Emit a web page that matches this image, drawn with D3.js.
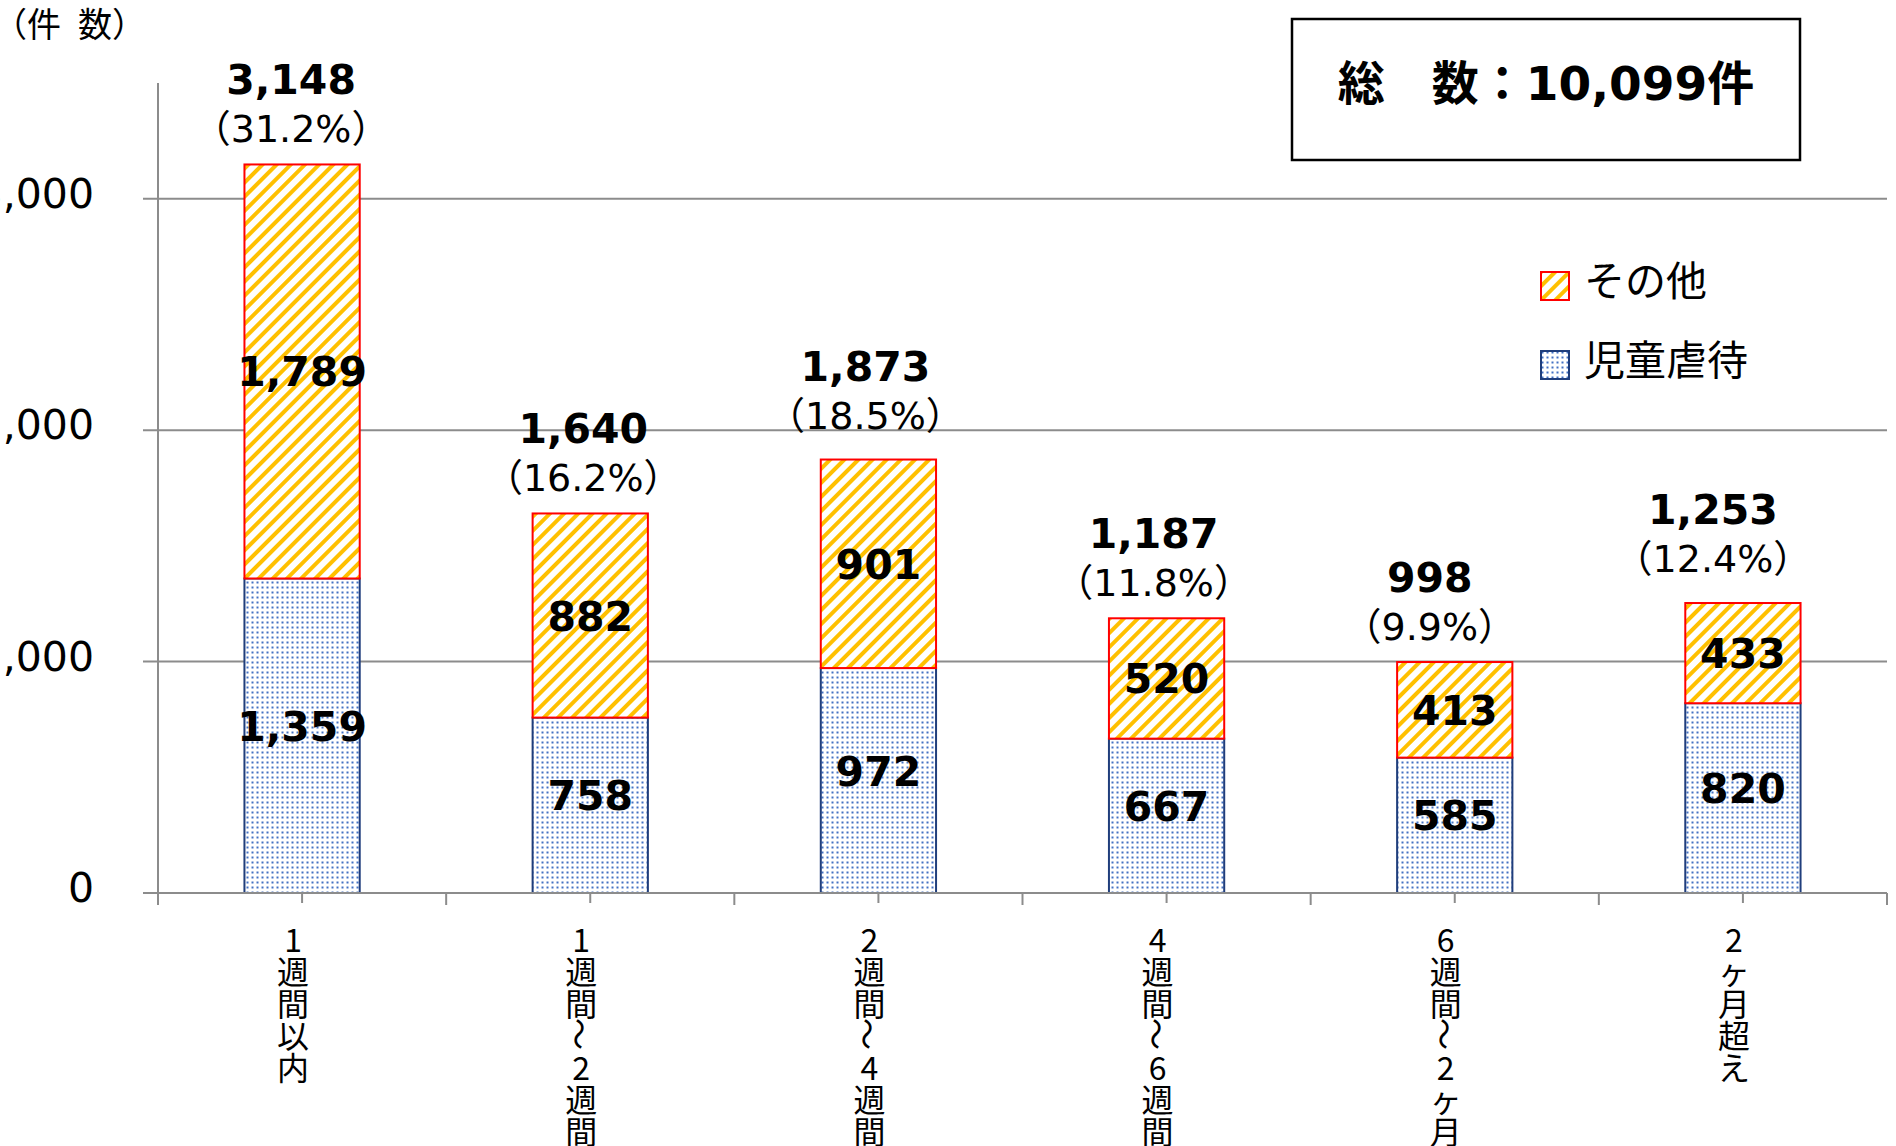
<!DOCTYPE html>
<html>
<head>
<meta charset="utf-8">
<script src="https://cdn.jsdelivr.net/npm/d3@7"></script>
<style>
  body { margin: 0; background: #fff; }
  svg { display: block; }
  text { font-family: "DejaVu Sans", "Noto Sans CJK JP", sans-serif; fill: #000; }
</style>
</head>
<body>
<div id="chart"></div>
<script>
// --- データ ---
const categories = [
  ["1", "週", "間", "以", "内"],
  ["1", "週", "間", "～", "2", "週", "間"],
  ["2", "週", "間", "～", "4", "週", "間"],
  ["4", "週", "間", "～", "6", "週", "間"],
  ["6", "週", "間", "～", "2", "ヶ", "月"],
  ["2", "ヶ", "月", "超", "え"]
];
const abuse = [1359, 758, 972, 667, 585, 820];   // 児童虐待
const other = [1789, 882, 901, 520, 413, 433];   // その他
const percents = ["31.2%", "16.2%", "18.5%", "11.8%", "9.9%", "12.4%"];
const yTicks = [0, 1000, 2000, 3000];
const seriesNames = ["その他", "児童虐待"];
const totalText = "総\u3000数：10,099件";
const yTitle = "（件\u2002数）";

// 合計ラベルの手動位置ずれ（元図で個別に動かされている）
const labelShift = [[-11, 0], [-7, 0], [-13, -9], [-13, 0], [-25, 0], [-30, -9]];

// --- サイズ ---
const W = 1896, H = 1146;
const plot = { left: 158, right: 1887, top: 83, bottom: 893 };

const svg = d3.select("#chart")
  .append("svg")
    .attr("width", W)
    .attr("height", H);

// --- パターン ---
const defs = svg.append("defs");
const stripe = defs.append("pattern")
    .attr("id", "stripe")
    .attr("patternUnits", "userSpaceOnUse")
    .attr("width", 10)
    .attr("height", 10)
    .attr("patternTransform", "rotate(45)");
stripe.append("rect").attr("width", 10).attr("height", 10).attr("fill", "#fff");
stripe.append("rect").attr("width", 4).attr("height", 10).attr("fill", "#ffc000");

const dots = defs.append("pattern")
    .attr("id", "dots")
    .attr("patternUnits", "userSpaceOnUse")
    .attr("width", 5)
    .attr("height", 5);
dots.append("rect").attr("width", 5).attr("height", 5).attr("fill", "#fff");
dots.append("rect").attr("x", 1.5).attr("y", 1.5).attr("width", 2).attr("height", 2).attr("fill", "#4472c4");

// --- スケール ---
const idx = d3.range(categories.length);
const x = d3.scaleBand()
  .domain(idx)
  .range([plot.left, plot.right])
  .paddingInner(0.6)
  .paddingOuter(0.3);

const y = d3.scaleLinear()
  .domain([0, 3500])
  .range([plot.bottom, plot.top]);

const axisColor = "#8c8c8c";
const fmt = d3.format(",");

// --- グリッド線 ---
svg.append("g")
  .selectAll("line")
  .data(yTicks)
  .join("line")
    .attr("x1", plot.left - 15)
    .attr("x2", plot.right)
    .attr("y1", d => y(d))
    .attr("y2", d => y(d))
    .attr("stroke", axisColor)
    .attr("stroke-width", 2);

// Y軸ラベル（元図と同じく左端で切れる）
svg.append("g")
  .selectAll("text")
  .data(yTicks)
  .join("text")
    .attr("x", 94)
    .attr("y", d => y(d) + 9)
    .attr("text-anchor", "end")
    .style("font-size", "41px")
    .text(d => fmt(d));

// Y軸
svg.append("line")
  .attr("x1", plot.left).attr("x2", plot.left)
  .attr("y1", plot.top).attr("y2", plot.bottom + 12)
  .attr("stroke", axisColor)
  .attr("stroke-width", 2);

// X軸: 棒の中央の短い目盛
const xAxis = svg.append("g")
  .attr("transform", `translate(0,${plot.bottom})`)
  .call(d3.axisBottom(x).tickSize(10).tickFormat(""));
xAxis.select(".domain").remove();
xAxis.selectAll("line").attr("stroke", axisColor).attr("stroke-width", 2);

// カテゴリ境界の目盛
svg.append("g")
  .selectAll("line")
  .data(idx.map(i => i + 1))
  .join("line")
    .attr("x1", i => plot.left + i * x.step())
    .attr("x2", i => plot.left + i * x.step())
    .attr("y1", plot.bottom)
    .attr("y2", plot.bottom + 12)
    .attr("stroke", axisColor)
    .attr("stroke-width", 2);

// --- 棒 ---
const bars = svg.append("g");
bars.selectAll(".abuse")
  .data(idx)
  .join("rect")
    .attr("class", "abuse")
    .attr("x", i => x(i))
    .attr("y", i => y(abuse[i]))
    .attr("width", x.bandwidth())
    .attr("height", i => y(0) - y(abuse[i]))
    .attr("fill", "url(#dots)")
    .attr("stroke", "#203e7c")
    .attr("stroke-width", 2);

bars.selectAll(".other")
  .data(idx)
  .join("rect")
    .attr("class", "other")
    .attr("x", i => x(i))
    .attr("y", i => y(abuse[i] + other[i]))
    .attr("width", x.bandwidth())
    .attr("height", i => y(abuse[i]) - y(abuse[i] + other[i]))
    .attr("fill", "url(#stripe)")
    .attr("stroke", "#ff0000")
    .attr("stroke-width", 2);

// X軸線（棒の上に）
svg.append("line")
  .attr("x1", plot.left - 15).attr("x2", plot.right)
  .attr("y1", plot.bottom).attr("y2", plot.bottom)
  .attr("stroke", axisColor)
  .attr("stroke-width", 2);

const cx = i => x(i) + x.bandwidth() / 2;

// --- 値ラベル ---
svg.append("g")
  .selectAll("text")
  .data(idx)
  .join("text")
    .attr("x", cx)
    .attr("y", i => (y(abuse[i]) + y(0)) / 2 + 5)
    .attr("text-anchor", "middle")
    .style("font-size", "41px")
    .style("font-weight", "bold")
    .text(i => fmt(abuse[i]));

svg.append("g")
  .selectAll("text")
  .data(idx)
  .join("text")
    .attr("x", cx)
    .attr("y", i => (y(abuse[i] + other[i]) + y(abuse[i])) / 2 + 15)
    .attr("text-anchor", "middle")
    .style("font-size", "41px")
    .style("font-weight", "bold")
    .text(i => fmt(other[i]));

// 合計と割合
const tops = svg.append("g");
tops.selectAll(".total")
  .data(idx)
  .join("text")
    .attr("class", "total")
    .attr("x", i => cx(i) + labelShift[i][0])
    .attr("y", i => y(abuse[i] + other[i]) - 70 + labelShift[i][1])
    .attr("text-anchor", "middle")
    .style("font-size", "41px")
    .style("font-weight", "bold")
    .text(i => fmt(abuse[i] + other[i]));

tops.selectAll(".pct")
  .data(idx)
  .join("text")
    .attr("class", "pct")
    .attr("x", i => cx(i) + labelShift[i][0])
    .attr("y", i => y(abuse[i] + other[i]) - 22 + labelShift[i][1])
    .attr("text-anchor", "middle")
    .style("font-size", "38px")
    .text(i => `（${percents[i]}）`);

// --- X軸ラベル（縦に1文字ずつ） ---
const xl = svg.append("g")
  .selectAll("g")
  .data(idx)
  .join("g");
xl.each(function(i) {
  const g = d3.select(this);
  categories[i].forEach((ch, k) => {
    const px = cx(i) - 9, py = 938 + k * 32;
    g.append("text")
      .attr("x", px)
      .attr("y", py)
      .attr("text-anchor", "middle")
      .attr("dominant-baseline", "central")
      .attr("transform", ch === "～" ? `rotate(90,${px},${py})` : null)
      .style("font-size", "32px")
      .style("font-family", "'Noto Sans CJK JP', sans-serif")
      .text(ch);
  });
});

// --- 凡例 ---
const legend = svg.append("g");
const legendY = [286, 365];
const legendFill = ["url(#stripe)", "url(#dots)"];
const legendStroke = ["#ff0000", "#203e7c"];
legend.selectAll("rect")
  .data(seriesNames)
  .join("rect")
    .attr("x", 1541)
    .attr("y", (d, i) => legendY[i] - 14)
    .attr("width", 28)
    .attr("height", 28)
    .attr("fill", (d, i) => legendFill[i])
    .attr("stroke", (d, i) => legendStroke[i])
    .attr("stroke-width", 2);
legend.selectAll("text")
  .data(seriesNames)
  .join("text")
    .attr("x", 1584)
    .attr("y", (d, i) => legendY[i] - 8)
    .attr("dominant-baseline", "central")
    .style("font-size", "41px")
    .style("font-family", "'Noto Sans CJK JP', sans-serif")
    .text(d => d);

// --- 総数ボックス ---
svg.append("rect")
  .attr("x", 1292).attr("y", 19)
  .attr("width", 508).attr("height", 141)
  .attr("fill", "#fff")
  .attr("stroke", "#000")
  .attr("stroke-width", 2.5);
svg.append("text")
  .attr("x", 1546)
  .attr("y", 83)
  .attr("text-anchor", "middle")
  .attr("dominant-baseline", "central")
  .style("font-size", "47px")
  .style("font-weight", "bold")
  .text(totalText);

// --- Y軸タイトル ---
svg.append("text")
  .attr("x", -7)
  .attr("y", 37)
  .style("font-size", "34px")
  .style("font-family", "'Noto Sans CJK JP', sans-serif")
  .text(yTitle);
</script>
</body>
</html>
